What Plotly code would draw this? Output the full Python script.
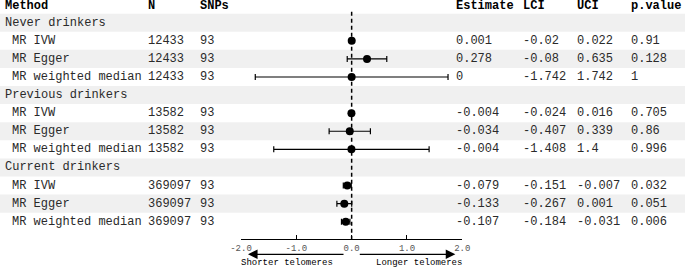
import plotly.graph_objects as go

# ---------------- data ----------------
groups = ["Never drinkers", "Previous drinkers", "Current drinkers"]
methods = ["MR IVW", "MR Egger", "MR weighted median"]
n_values = [12433, 13582, 369097]
snps = [93, 93, 93]
estimate = [0.001, 0.278, 0, -0.004, -0.034, -0.004, -0.079, -0.133, -0.107]
lci = [-0.02, -0.08, -1.742, -0.024, -0.407, -1.408, -0.151, -0.267, -0.184]
uci = [0.022, 0.635, 1.742, 0.016, 0.339, 1.4, -0.007, 0.001, -0.031]
pvalue = [0.91, 0.128, 1, 0.705, 0.86, 0.996, 0.032, 0.051, 0.006]
headers = ["Method", "N", "SNPs", "Estimate", "LCI", "UCI", "p.value"]
x_ticks = [-2.0, -1.0, 0.0, 1.0, 2.0]
x_tick_labels = ["-2.0", "-1.0", "0.0", "1.0", "2.0"]
arrow_labels = ["Shorter telomeres", "Longer telomeres"]

# ---------------- layout helpers ----------------
W, H = 685, 267
FONT = "Liberation Mono"
col_px = [3, 146, 198, 454, 521, 575, 629]  # left edges of columns
sub_indent_px = 10
TXT = "#2a2a2a"
STRIPE = "#f0f0f0"

def px(x):
    return x / W

def fmt(v):
    return f"{v:g}"

# rows: header = 0, then group / method rows
point_rows, row_texts = [], []
r = 1
k = 0
for gi, g in enumerate(groups):
    row_texts.append((r, [g], True))
    r += 1
    for m in methods:
        vals = [m, str(n_values[gi]), str(snps[gi]), fmt(estimate[k]),
                fmt(lci[k]), fmt(uci[k]), fmt(pvalue[k])]
        row_texts.append((r, vals, False))
        point_rows.append(r)
        r += 1
        k += 1
n_rows = r - 1

fig = go.Figure()

fig.add_trace(go.Scatter(
    x=estimate, y=point_rows, mode="markers",
    marker=dict(color="black", size=8, symbol="circle"),
    error_x=dict(type="data", symmetric=False,
                 array=[u - e for u, e in zip(uci, estimate)],
                 arrayminus=[e - l for e, l in zip(estimate, lci)],
                 color="black", thickness=1.2, width=3),
    hoverinfo="skip", showlegend=False, cliponaxis=False,
))

shapes = []
for rr in range(1, n_rows + 1):
    if rr % 2 == 1:
        shapes.append(dict(type="rect", xref="paper", yref="y", x0=0, x1=1,
                           y0=rr - 0.5, y1=rr + 0.5, fillcolor=STRIPE,
                           line=dict(width=0), layer="below"))
shapes.append(dict(type="line", xref="x", yref="y", x0=0, x1=0,
                   y0=0.39, y1=12.97, layer="below",
                   line=dict(color="black", width=1.5, dash="4px,3px")))

annotations = []
for i, h in enumerate(headers):
    annotations.append(dict(text=f"<b>{h}</b>", xref="paper", yref="y",
                            x=px(col_px[i]), y=0.05, xanchor="left", yanchor="middle",
                            showarrow=False, font=dict(family=FONT, size=12, color="black")))
for rr, vals, is_group in row_texts:
    for i, v in enumerate(vals):
        x0 = col_px[i] + (sub_indent_px - col_px[0] if (i == 0 and not is_group) else 0)
        annotations.append(dict(text=v, xref="paper", yref="y",
                                x=px(x0), y=rr, xanchor="left", yanchor="middle",
                                showarrow=False, font=dict(family=FONT, size=12, color=TXT)))

# arrows under the axis
arrow_y = (H - 254.3) / H
for head, tail in [(-1.874, -0.12), (1.874, 0.12)]:
    annotations.append(dict(text="", xref="x", yref="paper", x=head, y=arrow_y,
                            axref="x", ayref="pixel", ax=tail, ay=0,
                            showarrow=True, arrowhead=2, arrowsize=1.6,
                            arrowwidth=1.2, arrowcolor="black", standoff=0))
label_y = (H - 262.7) / H
for lab, cx in zip(arrow_labels, [286.5, 419.0]):
    annotations.append(dict(text=lab, xref="paper", yref="paper", x=px(cx), y=label_y,
                            xanchor="center", yanchor="middle", showarrow=False,
                            font=dict(family=FONT, size=9, color="black")))

axis_px = 239.3
fig.update_layout(
    width=W, height=H, autosize=False,
    margin=dict(l=0, r=0, t=0, b=0, pad=0),
    paper_bgcolor="white", plot_bgcolor="rgba(0,0,0,0)",
    shapes=shapes, annotations=annotations,
    xaxis=dict(domain=[px(241), px(462.3)], range=[-2, 2], automargin=False,
               tickvals=x_ticks, ticktext=x_tick_labels,
               ticks="inside", ticklen=4, tickwidth=1.2, tickcolor="black",
               showline=True, linecolor="black", linewidth=1.2,
               showgrid=False, zeroline=False,
               tickfont=dict(family=FONT, size=9, color="#555555")),
    yaxis=dict(domain=[(H - axis_px) / H, 1], range=[12.97, -0.254], automargin=False,
               visible=False, showgrid=False, zeroline=False),
)

fig.write_html("out.html", config={"displayModeBar": False},
               post_script="document.body.style.margin='0';document.body.style.overflow='hidden';")
